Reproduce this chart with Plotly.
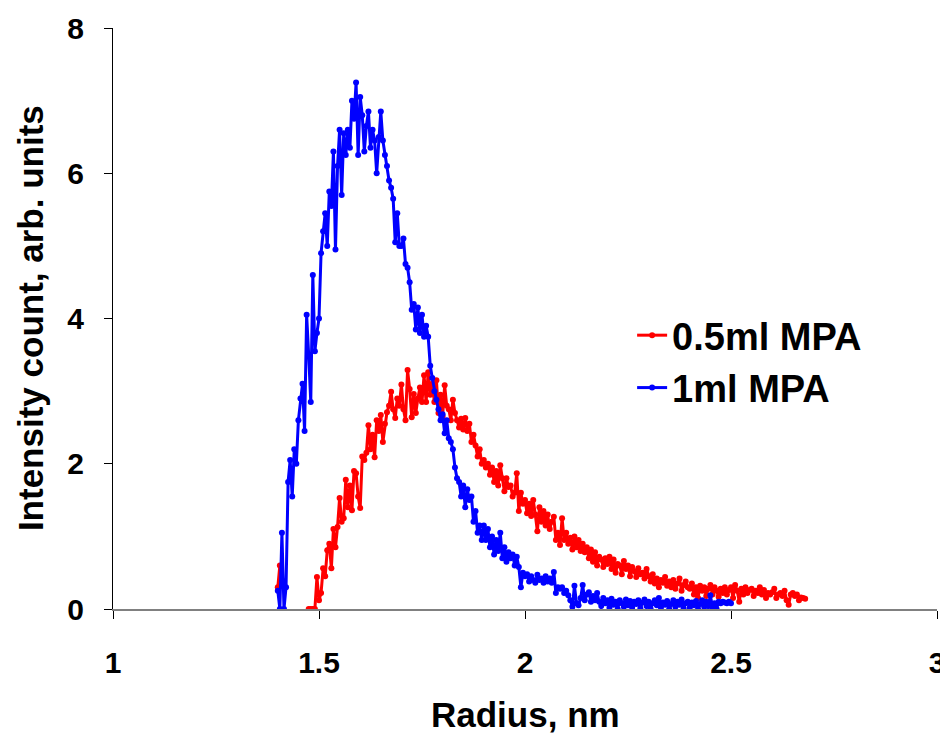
import numpy as np
import plotly.graph_objects as go

# radius grid: start + step (nm), intensity
r_start = 1.40
r_step = 0.005

blue_1ml = [
    0.25, 0.0, 1.05, 0.0, 0.3, 1.75, 2.05, 1.55, 2.2, 2.0,
    2.6, 2.9, 3.1, 2.45, 4.05, 3.5, 2.85, 4.6, 3.55, 3.8,
    4.0, 4.9, 5.2, 5.45, 5.0, 5.75, 5.55, 6.3, 4.95, 6.1,
    6.6, 5.7, 6.55, 6.25, 6.6, 6.35, 7.0, 6.75, 7.25, 6.25,
    7.05, 6.8, 6.3, 6.65, 6.85, 6.35, 6.6, 6.45, 6.0, 6.5,
    6.85, 6.45, 6.25, 6.1, 5.9, 5.8, 5.65, 5.05, 5.45, 5.0,
    5.0, 5.1, 4.75, 4.7, 4.5, 4.12, 4.2, 3.85, 4.15, 3.8,
    4.05, 3.75, 3.9, 3.75, 3.35, 3.18, 3.0, 2.88, 2.75, 2.6,
    2.68, 2.42, 2.6, 2.35, 2.3, 2.2, 1.95, 1.8, 1.75, 1.55,
    1.7, 1.4, 1.65, 1.5, 1.55, 1.2, 1.35, 1.05, 1.15, 0.95,
    1.15, 0.95, 1.1, 0.85, 1.0, 0.75, 0.95, 0.8, 1.05, 0.7,
    0.85, 0.65, 0.78, 0.7, 0.75, 0.6, 0.72, 0.58, 0.3, 0.5,
    0.45, 0.48, 0.38, 0.45, 0.4, 0.36, 0.47, 0.4, 0.42, 0.36,
    0.45, 0.38, 0.42, 0.36, 0.51, 0.22, 0.3, 0.28, 0.3, 0.22,
    0.25, 0.19, 0.12, 0.03, 0.32, 0.08, 0.05, 0.15, 0.33, 0.12,
    0.2, 0.23, 0.1, 0.18, 0.12, 0.22, 0.1, 0.04, 0.15, 0.08,
    0.12, 0.02, 0.14, 0.06, 0.1, 0.0, 0.12, 0.08, 0.03, 0.13,
    0.05, 0.11, 0.02, 0.1, 0.07, 0.12, 0.01, 0.09, 0.13, 0.04,
    0.1, 0.0, 0.08, 0.12, 0.05, 0.15, 0.02, 0.09, 0.06, 0.11,
    0.0, 0.07, 0.12, 0.03, 0.1, 0.06, 0.13, 0.01, 0.08, 0.1,
    0.02, 0.09, 0.05, 0.11, 0.0, 0.07, 0.12, 0.03, 0.1, 0.04,
    0.19, 0.02, 0.08, 0.0, 0.1, 0.08, 0.1, 0.09, 0.08, 0.1, 0.08,
]

red_05ml = [
    0.3, 0.6, 0.4,
    None, None, None, None, None, None, None, None, None, None, None, None,
    0.0, 0.0, 0.0, 0.0, 0.44,
    0.12, 0.22, 0.56, 0.45, 0.81, 0.9, 0.56, 1.1, 0.85, 1.13,
    1.53, 1.2, 1.25, 1.78, 1.4, 1.7, 1.36, 1.9, 1.87, 1.55,
    1.39, 2.1, 2.05, 2.15, 2.53, 2.2, 2.4, 2.09, 2.6, 2.45,
    2.67, 2.3, 2.55, 2.71, 2.8, 2.99, 2.75, 2.63, 2.9, 2.8,
    3.09, 2.75, 2.6, 3.29, 3.03, 2.64, 2.96, 2.7, 2.9, 3.05,
    2.85, 3.22, 2.85, 3.26, 2.95, 3.1, 2.85, 3.15, 2.7, 2.95,
    2.65, 3.08, 2.8, 2.75, 2.6, 2.88, 2.7, 2.6, 2.5, 2.62,
    2.47, 2.63, 2.45, 2.55, 2.3, 2.4, 2.25, 2.1, 2.2, 2.0,
    2.05, 1.95, 2.0, 1.85, 1.95, 1.75, 1.9, 1.7, 1.98, 1.8,
    1.62, 1.8, 1.68, 1.7, 1.55, 1.6, 1.87, 1.35, 1.6, 1.45,
    1.5, 1.32, 1.45, 1.28, 1.5, 1.3, 1.07, 1.4, 1.2, 1.35,
    1.15, 1.3, 1.1, 1.2, 1.27, 0.95, 1.05, 0.88, 1.25, 0.95,
    1.05, 0.9, 0.98, 0.82, 1.0, 0.85, 0.95, 0.8, 0.9, 0.78,
    0.85, 0.7, 0.82, 0.65, 0.78, 0.6, 0.72, 0.68, 0.58, 0.7,
    0.62, 0.72, 0.55, 0.68, 0.5, 0.62, 0.6, 0.48, 0.66, 0.55,
    0.6, 0.45, 0.58, 0.52, 0.44, 0.56, 0.48, 0.5, 0.42, 0.55,
    0.45, 0.38, 0.48, 0.35, 0.42, 0.3, 0.4, 0.36, 0.44, 0.32,
    0.38, 0.3, 0.4, 0.28, 0.35, 0.42, 0.25, 0.33, 0.38, 0.3,
    0.28, 0.35, 0.2, 0.3, 0.15, 0.32, 0.25, 0.3, 0.18, 0.28,
    0.33, 0.2, 0.3, 0.25, 0.17, 0.28, 0.22, 0.3, 0.2, 0.26,
    0.3, 0.15, 0.33, 0.25, 0.1, 0.28, 0.2, 0.3, 0.22, 0.26,
    0.28, 0.18, 0.25, 0.22, 0.3, 0.2, 0.26, 0.15, 0.22, 0.2,
    0.23, 0.28, 0.15, 0.2, 0.22, 0.18, 0.25, 0.12, 0.06, 0.2,
    0.22, 0.18, 0.2, 0.12, 0.16, 0.15, 0.14,
]

x_ticks = [1, 1.5, 2, 2.5, 3]
y_ticks = [0, 2, 4, 6, 8]

x_blue = np.round(r_start + r_step * np.arange(len(blue_1ml)), 4)
x_red = np.round(r_start + r_step * np.arange(len(red_05ml)), 4)

fig = go.Figure()
fig.add_trace(go.Scatter(x=x_red, y=red_05ml, name="0.5ml MPA", mode="lines+markers",
                         line=dict(color="#FF0000", width=3), marker=dict(size=6, color="#FF0000"),
                         connectgaps=False))
fig.add_trace(go.Scatter(x=x_blue, y=blue_1ml, name="1ml MPA", mode="lines+markers",
                         line=dict(color="#0000FF", width=3), marker=dict(size=6, color="#0000FF")))

font = "Arial, Liberation Sans, sans-serif"
# page body has an 8px margin, so the figure is 8px smaller than the window
fig.update_layout(
    width=940, height=725,
    margin=dict(l=105, r=11, t=20, b=124),
    plot_bgcolor="white", paper_bgcolor="white",
    font=dict(family=font, color="black"),
    showlegend=True,
    legend=dict(x=0.63, y=0.525, xanchor="left", yanchor="top",
                font=dict(size=38, family=font, weight="bold"),
                bgcolor="rgba(0,0,0,0)", tracegroupgap=0),
)
fig.update_xaxes(range=[1, 3], tickvals=x_ticks, ticktext=[str(v) for v in x_ticks],
                 showgrid=False, zeroline=False, showline=True, linecolor="#808080", linewidth=2,
                 ticks="outside", ticklen=8, tickcolor="black", ticklabelstandoff=18,
                 tickfont=dict(size=30, family=font, weight="bold"), automargin=False)
fig.update_yaxes(range=[0, 8], tickvals=y_ticks,
                 showgrid=False, zeroline=False, showline=True, linecolor="black", linewidth=1,
                 ticks="outside", ticklen=8, tickcolor="black", ticklabelstandoff=14,
                 tickfont=dict(size=30, family=font, weight="bold"), automargin=False)

# axis titles as annotations so they sit where the reference has them
fig.add_annotation(text="Radius, nm", xref="paper", yref="paper", x=0.5, y=-0.182,
                   xanchor="center", yanchor="middle", showarrow=False,
                   font=dict(size=35, family=font, weight="bold"))
fig.add_annotation(text="Intensity count, arb. units", xref="paper", yref="paper", x=-0.1, y=0.5,
                   xanchor="center", yanchor="middle", textangle=-90, showarrow=False,
                   font=dict(size=35, family=font, weight="bold"))

fig.write_html("out.html")
